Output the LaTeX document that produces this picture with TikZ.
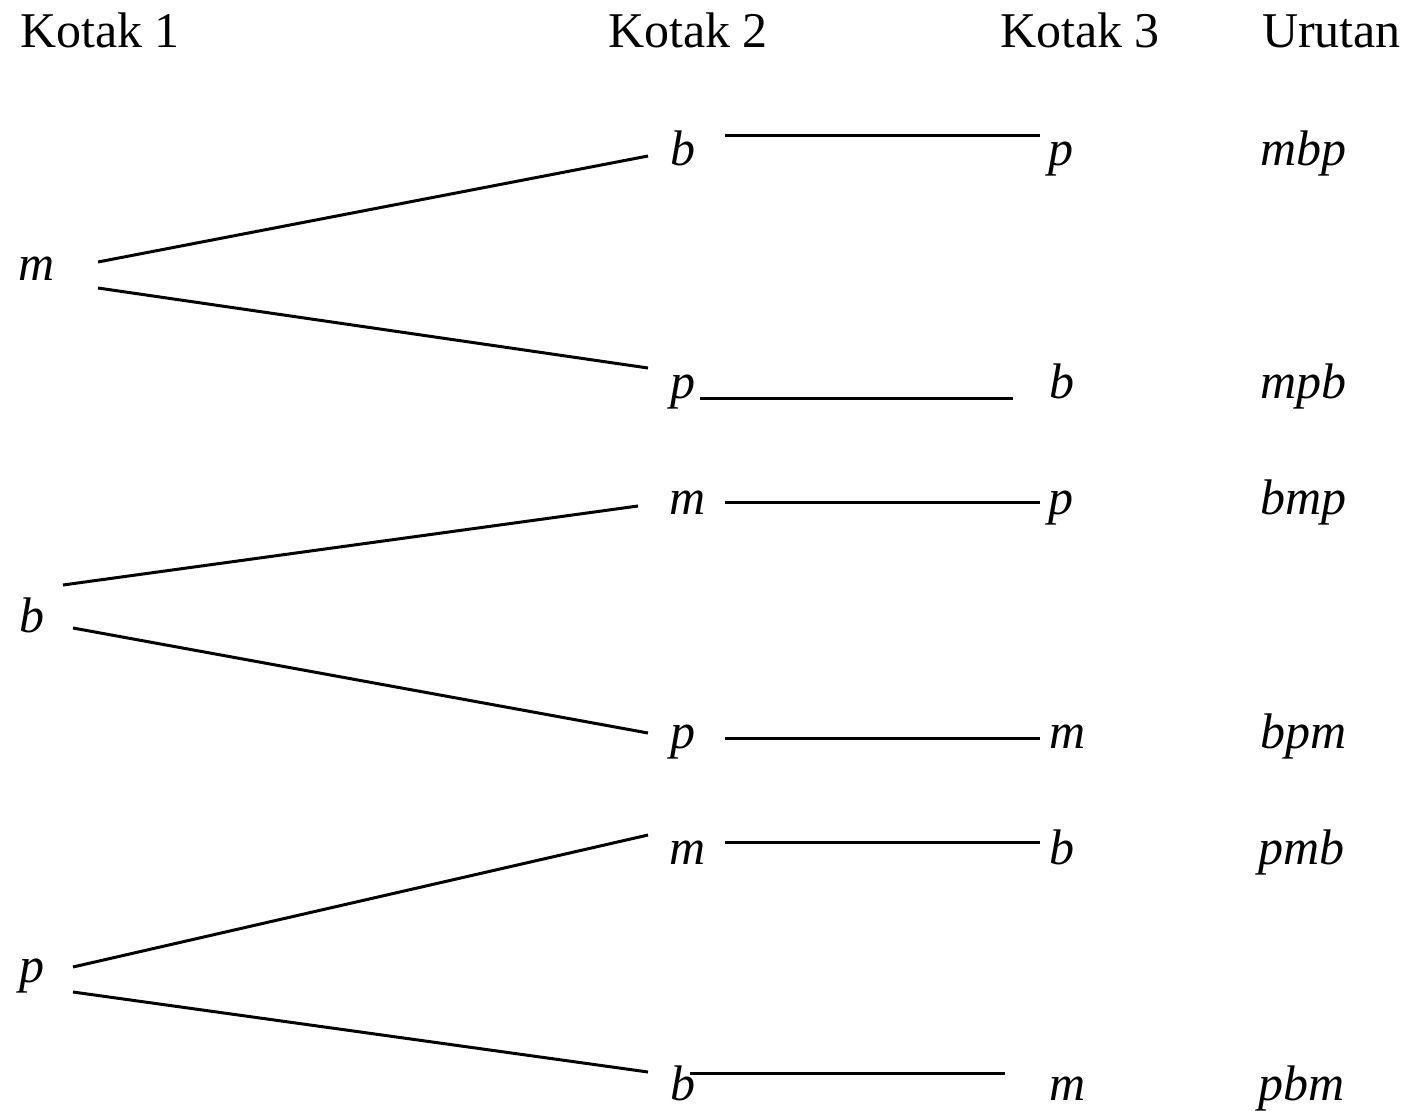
\documentclass[tikz,border=0pt]{standalone}
\usepackage{fontspec}
\setmainfont{Liberation Serif}
\begin{document}
\begin{tikzpicture}[x=1pt,y=-1pt,
  every node/.style={inner sep=0pt,outer sep=0pt,font=\fontsize{50}{60}\selectfont},
  head/.style={anchor=base west},
  let/.style={anchor=base,font=\fontsize{50}{60}\selectfont\itshape},
  seq/.style={anchor=base west,font=\fontsize{50}{60}\selectfont\itshape},
  edge/.style={line width=3pt}]
\useasboundingbox (0,0) rectangle (1412,1110);
% headers
\node[head] (h1) at (20,48) {Kotak 1};
\node[head] (h2) at (608,48) {Kotak 2};
\node[head] (h3) at (1000,48) {Kotak 3};
\node[head] (h4) at (1262,48) {Urutan};
% column 1
\node[let] (m1) at (37,280) {m};
\node[let] (b1) at (32,632) {b};
\node[let] (p1) at (32,982) {p};
% column 2
\node[let] (c2a) at (683,166) {b};
\node[let] (c2b) at (683,398) {p};
\node[let] (c2c) at (688,514) {m};
\node[let] (c2d) at (683,748) {p};
\node[let] (c2e) at (688,864) {m};
\node[let] (c2f) at (683,1100) {b};
% column 3
\node[let] (c3a) at (1061,166) {p};
\node[let] (c3b) at (1062,398) {b};
\node[let] (c3c) at (1061,514) {p};
\node[let] (c3d) at (1068,748) {m};
\node[let] (c3e) at (1062,864) {b};
\node[let] (c3f) at (1068,1100) {m};
% sequences
\node[seq] (s1) at (1260,166) {mbp};
\node[seq] (s2) at (1260,398) {mpb};
\node[seq] (s3) at (1260,514) {bmp};
\node[seq] (s4) at (1260,748) {bpm};
\node[seq] (s5) at (1258,864) {pmb};
\node[seq] (s6) at (1258,1100) {pbm};
% connector end points
\coordinate (m1u) at (98,262); \coordinate (c2aw) at (648,156);
\coordinate (m1d) at (98,288); \coordinate (c2bw) at (648,368);
\coordinate (c2ae) at (725,136); \coordinate (c3aw) at (1040,136);
\coordinate (c2be) at (700,398); \coordinate (c3bw) at (1013,398);
\coordinate (b1u) at (63,585); \coordinate (c2cw) at (638,506);
\coordinate (b1d) at (73,628); \coordinate (c2dw) at (648,733);
\coordinate (c2ce) at (725,502); \coordinate (c3cw) at (1040,502);
\coordinate (c2de) at (725,738); \coordinate (c3dw) at (1040,738);
\coordinate (p1u) at (73,967); \coordinate (c2ew) at (648,835);
\coordinate (p1d) at (73,992); \coordinate (c2fw) at (648,1072);
\coordinate (c2ee) at (725,842); \coordinate (c3ew) at (1040,842);
\coordinate (c2fe) at (690,1073); \coordinate (c3fw) at (1005,1073);
\draw[edge] (m1u) -- (c2aw);
\draw[edge] (m1d) -- (c2bw);
\draw[edge] (c2ae) -- (c3aw);
\draw[edge] (c2be) -- (c3bw);
\draw[edge] (b1u) -- (c2cw);
\draw[edge] (b1d) -- (c2dw);
\draw[edge] (c2ce) -- (c3cw);
\draw[edge] (c2de) -- (c3dw);
\draw[edge] (p1u) -- (c2ew);
\draw[edge] (p1d) -- (c2fw);
\draw[edge] (c2ee) -- (c3ew);
\draw[edge] (c2fe) -- (c3fw);
\end{tikzpicture}
\end{document}
